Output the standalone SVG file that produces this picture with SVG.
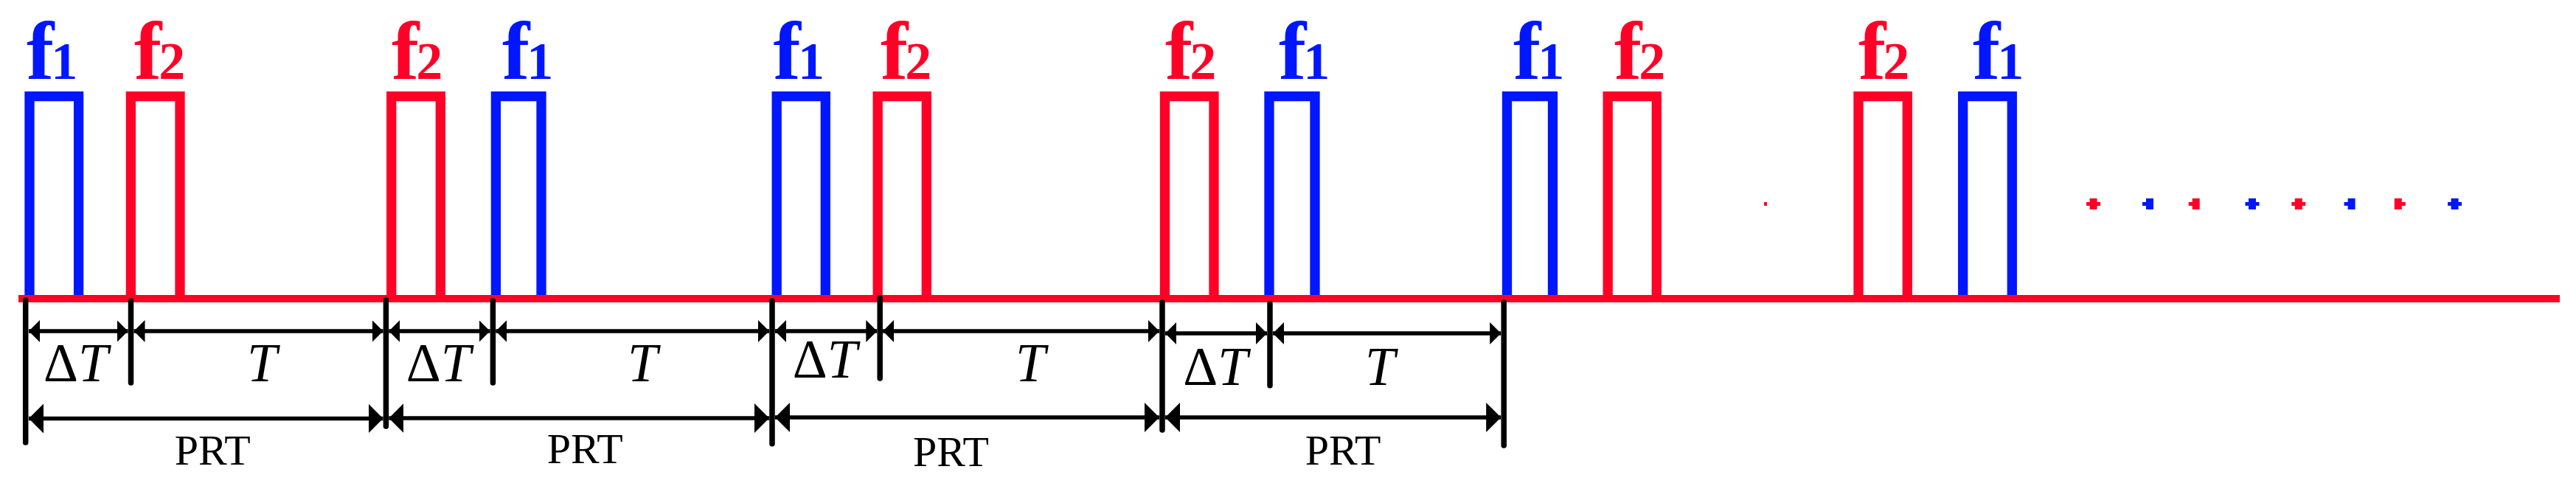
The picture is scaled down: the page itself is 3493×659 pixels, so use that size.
<svg xmlns="http://www.w3.org/2000/svg" width="3493" height="659" viewBox="0 0 3493 659">
<style>
.bg{fill:#fff}
.pb{fill:none;stroke:#0016FF;stroke-width:13.3;stroke-linejoin:miter}
.pr{fill:none;stroke:#FF0026;stroke-width:13.3;stroke-linejoin:miter}
.base{stroke:#FF0026;stroke-width:10}
.lb{fill:#0016FF;font-family:"Liberation Serif",serif;font-weight:bold}
.lr{fill:#FF0026;font-family:"Liberation Serif",serif;font-weight:bold}
.f{font-size:112px}
.d{font-size:72px}
.tick{stroke:#000;stroke-width:7.5;stroke-linecap:round}
.arr{stroke:#000;stroke-width:5.7;fill:none}
.sm{marker-start:url(#ah);marker-end:url(#ah)}
.bg2{marker-start:url(#ahb);marker-end:url(#ahb)}
.dt{font-family:"Liberation Serif",serif;font-size:73px;fill:#000}
.prt{font-family:"Liberation Serif",serif;font-size:58px;fill:#000;text-anchor:middle}
.dotr{fill:#FF0026}
.dotb{fill:#0016FF}
</style>
<defs>
<marker id="ah" markerUnits="userSpaceOnUse" markerWidth="15" markerHeight="30" viewBox="0 0 15 30" refX="15" refY="15" orient="auto-start-reverse"><path d="M0,0 L15,15 L0,30 Z" fill="#000"/></marker>
<marker id="ahb" markerUnits="userSpaceOnUse" markerWidth="20" markerHeight="40" viewBox="0 0 20 40" refX="20" refY="20" orient="auto-start-reverse"><path d="M0,0 L20,20 L0,40 Z" fill="#000"/></marker>
</defs>
<rect class="bg" x="0" y="0" width="3493" height="659"/>

<g id="pulse1"><path class="pb" d="M40,405 V130.7 H106.6 V405"/><text class="lb" x="36" y="106.7"><tspan class="f">f</tspan><tspan class="d" dx="-4">1</tspan></text></g>
<g id="pulse2"><path class="pr" d="M177.4,405 V130.7 H244 V405"/><text class="lr" x="182" y="106.7"><tspan class="f">f</tspan><tspan class="d" dx="-4">2</tspan></text></g>
<g id="pulse3"><path class="pr" d="M530.7,405 V130.7 H597.3 V405"/><text class="lr" x="531" y="106.7"><tspan class="f">f</tspan><tspan class="d" dx="-4">2</tspan></text></g>
<g id="pulse4"><path class="pb" d="M672.4,405 V130.7 H734 V405"/><text class="lb" x="681" y="106.7"><tspan class="f">f</tspan><tspan class="d" dx="-4">1</tspan></text></g>
<g id="pulse5"><path class="pb" d="M1053.2,405 V130.7 H1119.3 V405"/><text class="lb" x="1048.6" y="106.7"><tspan class="f">f</tspan><tspan class="d" dx="-4">1</tspan></text></g>
<g id="pulse6"><path class="pr" d="M1190.2,405 V130.7 H1256.3 V405"/><text class="lr" x="1194" y="106.7"><tspan class="f">f</tspan><tspan class="d" dx="-4">2</tspan></text></g>
<g id="pulse7"><path class="pr" d="M1579.5,405 V130.7 H1646 V405"/><text class="lr" x="1580" y="106.7"><tspan class="f">f</tspan><tspan class="d" dx="-4">2</tspan></text></g>
<g id="pulse8"><path class="pb" d="M1721,405 V130.7 H1783 V405"/><text class="lb" x="1734" y="106.7"><tspan class="f">f</tspan><tspan class="d" dx="-4">1</tspan></text></g>
<g id="pulse9"><path class="pb" d="M2043.5,405 V130.7 H2105.5 V405"/><text class="lb" x="2052" y="106.7"><tspan class="f">f</tspan><tspan class="d" dx="-4">1</tspan></text></g>
<g id="pulse10"><path class="pr" d="M2180.2,405 V130.7 H2246.3 V405"/><text class="lr" x="2189" y="106.7"><tspan class="f">f</tspan><tspan class="d" dx="-4">2</tspan></text></g>
<g id="pulse11"><path class="pr" d="M2520,405 V130.7 H2586.3 V405"/><text class="lr" x="2520" y="106.7"><tspan class="f">f</tspan><tspan class="d" dx="-4">2</tspan></text></g>
<g id="pulse12"><path class="pb" d="M2661.7,405 V130.7 H2728.3 V405"/><text class="lb" x="2675" y="106.7"><tspan class="f">f</tspan><tspan class="d" dx="-4">1</tspan></text></g>

<g id="baseline"><line class="base" x1="25" y1="405" x2="3471" y2="405"/></g>

<g id="dots">
<rect class="dotr" x="2392" y="274" width="4" height="5"/>
<path class="dotr" d="M2833.6,269 h10 v5 h4.5 v5 h-4.5 v5 h-10 v-5 h-4.5 v-5 h4.5 z"/>
<path class="dotb" d="M2910,269 h10 v15 h-10 v-5 h-5 v-5 h5 z"/>
<path class="dotr" d="M2972.7,269 h10 v15 h-10 v-5 h-5 v-5 h5 z"/>
<path class="dotb" d="M3049,269 h10 v5 h4.5 v5 h-4.5 v5 h-10 v-5 h-4.5 v-5 h4.5 z"/>
<path class="dotr" d="M3111.8,269 h10 v5 h4.5 v5 h-4.5 v5 h-10 v-5 h-4.5 v-5 h4.5 z"/>
<path class="dotb" d="M3183.6,269 h10 v15 h-10 v-5 h-5 v-5 h5 z"/>
<path class="dotr" d="M3246.8,269 h10 v5 h5 v5 h-5 v5 h-10 z"/>
<path class="dotb" d="M3323.6,269 h10 v5 h4.5 v5 h-4.5 v5 h-10 v-5 h-4.5 v-5 h4.5 z"/>
</g>

<g id="connectors">
<line class="tick" x1="34.7" y1="407" x2="34.7" y2="600"/>
<line class="tick" x1="177.5" y1="408" x2="177.5" y2="519"/>
<line class="tick" x1="523.4" y1="407" x2="523.4" y2="578"/>
<line class="tick" x1="668.4" y1="408" x2="668.4" y2="519"/>
<line class="tick" x1="1047" y1="408" x2="1047" y2="601.7"/>
<line class="tick" x1="1193.2" y1="404" x2="1193.2" y2="513"/>
<line class="tick" x1="1576" y1="410" x2="1576" y2="583"/>
<line class="tick" x1="1722" y1="411.7" x2="1722" y2="522.7"/>
<line class="tick" x1="2039.2" y1="410" x2="2039.2" y2="604"/>

<line class="arr sm" x1="39" y1="449" x2="173.5" y2="449"/>
<line class="arr sm" x1="181.5" y1="449" x2="519.5" y2="449"/>
<line class="arr bg2" x1="39" y1="567.5" x2="519.5" y2="567.5"/>

<line class="arr sm" x1="527.3" y1="449" x2="664.5" y2="449"/>
<line class="arr sm" x1="672.3" y1="449" x2="1043" y2="449"/>
<line class="arr bg2" x1="527.3" y1="567" x2="1043" y2="567"/>

<line class="arr sm" x1="1051" y1="449" x2="1189.3" y2="449"/>
<line class="arr sm" x1="1197.1" y1="449" x2="1572" y2="449"/>
<line class="arr bg2" x1="1051" y1="566" x2="1572" y2="566"/>

<line class="arr sm" x1="1580" y1="452" x2="1718" y2="452"/>
<line class="arr sm" x1="1726" y1="452" x2="2035.2" y2="452"/>
<line class="arr bg2" x1="1580" y1="566" x2="2035.2" y2="566"/>
</g>

<g id="labels">
<text class="dt" x="59" y="516.7">Δ<tspan font-style="italic">T</tspan></text>
<text class="dt" x="335" y="516.7" font-style="italic">T</text>
<text class="prt" x="288.3" y="630">PRT</text>

<text class="dt" x="550.7" y="516.7">Δ<tspan font-style="italic">T</tspan></text>
<text class="dt" x="851" y="516.7" font-style="italic">T</text>
<text class="prt" x="793.3" y="628">PRT</text>

<text class="dt" x="1074.8" y="511.7">Δ<tspan font-style="italic">T</tspan></text>
<text class="dt" x="1377" y="516.7" font-style="italic">T</text>
<text class="prt" x="1289.5" y="631.7">PRT</text>

<text class="dt" x="1604.2" y="521.7">Δ<tspan font-style="italic">T</tspan></text>
<text class="dt" x="1851" y="521.7" font-style="italic">T</text>
<text class="prt" x="1821.1" y="630">PRT</text>
</g>
</svg>
